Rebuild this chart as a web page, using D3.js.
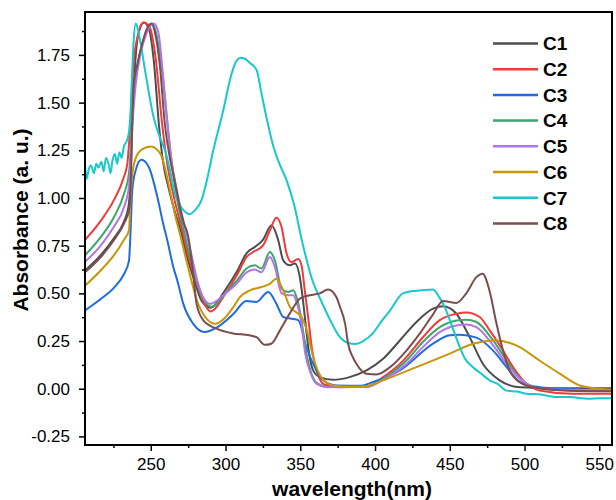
<!DOCTYPE html>
<html>
<head>
<meta charset="utf-8">
<script src="https://cdn.jsdelivr.net/npm/d3@7"></script>
<style>
  body { margin: 0; background: #fff; }
  svg { font-family: "Liberation Sans", Arial, sans-serif; }
  .axis text { font-size: 17px; fill: #000; }
  .axis path { display: none; }
  .axis line { stroke: #000; stroke-width: 1.5; }
</style>
</head>
<body>
<div id="chart"></div>
<script>
// series names and colours
const names = ['C1', 'C2', 'C3', 'C4', 'C5', 'C6', 'C7', 'C8'];
const colors = ['#4d4d4d', '#ef3b3b', '#1f6be0', '#3aa86b', '#b374e8', '#c8960a', '#17c8cc', '#7a4e4e'];

// [wavelength (nm), absorbance]
const c1 = [[206,0.62],[216.5,0.70],[225.4,0.79],[232,0.875],[235,0.95],[236.5,1.1],[237.5,1.4],[239.5,1.7],[242,1.87],[245.5,1.92],[249,1.88],[252,1.72],[255.5,1.38],[258,1.20],[262,1.05],[266,0.93],[270,0.83],[274,0.70],[279,0.57],[284,0.46],[290,0.425],[300,0.52],[308,0.62],[314,0.71],[319.6,0.743],[325,0.78],[330.8,0.857],[335.2,0.78],[338.6,0.673],[343,0.647],[346.4,0.656],[350,0.57],[352,0.45],[354,0.306],[356,0.18],[358.6,0.096],[363,0.061],[372,0.047],[383,0.061],[394.3,0.096],[405.4,0.157],[416.6,0.253],[427.7,0.35],[438.8,0.42],[445.5,0.432],[454.4,0.393],[463.3,0.27],[472.2,0.13],[483.4,0.044],[496.7,0.008],[520,0.003],[558.5,0.002]];
const c2 = [[206,0.78],[216.5,0.88],[225.4,0.99],[232,1.11],[234.3,1.18],[236,1.35],[238.3,1.69],[241.6,1.86],[245,1.92],[249,1.90],[253,1.75],[257.7,1.38],[261,1.18],[265,1.02],[271,0.83],[275,0.70],[280,0.57],[285,0.46],[290,0.405],[300,0.50],[308,0.60],[314,0.69],[318.5,0.717],[325,0.75],[329.7,0.83],[334,0.897],[337.4,0.85],[340.8,0.71],[344,0.664],[348.6,0.68],[350.8,0.647],[353,0.516],[355.5,0.36],[358,0.20],[360,0.12],[363,0.05],[366,0.022],[376.5,0.008],[395,0.012],[405.4,0.061],[416.6,0.13],[421,0.166],[432,0.27],[443.3,0.36],[454.5,0.393],[461,0.40],[470,0.376],[476.7,0.306],[485.6,0.20],[492.3,0.113],[499,0.044],[510,-0.009],[532,-0.026],[558.5,-0.026]];
const c3 = [[206,0.41],[216.5,0.47],[225.4,0.53],[232,0.60],[235.4,0.67],[236.5,0.83],[237.6,1.04],[239.9,1.145],[243.7,1.20],[248.8,1.16],[254.4,1.005],[258.3,0.865],[261,0.78],[265,0.64],[268,0.56],[271.7,0.446],[278.4,0.34],[286,0.297],[294,0.32],[305,0.39],[314,0.46],[320.7,0.455],[328.5,0.507],[334,0.446],[338.6,0.376],[344,0.367],[348.6,0.36],[354,0.22],[358.6,0.13],[365.3,0.044],[374,0.017],[390,0.015],[398.7,0.035],[416.6,0.096],[438.8,0.236],[450,0.28],[456.7,0.283],[467.8,0.268],[479,0.20],[488,0.113],[497,0.035],[510,0.008],[530,-0.003],[558.5,-0.008]];
const c4 = [[206,0.70],[216.5,0.795],[225.4,0.90],[232,1.02],[235.4,1.13],[236.5,1.25],[238,1.5],[240,1.64],[243,1.77],[247,1.87],[251,1.915],[254,1.85],[257,1.70],[260,1.48],[263,1.25],[267,1.02],[272,0.83],[276,0.70],[280.5,0.57],[285,0.47],[290.6,0.43],[300,0.50],[308,0.57],[314,0.63],[319.6,0.647],[324,0.63],[329.7,0.717],[333,0.673],[337.5,0.525],[342,0.507],[345.3,0.516],[347.5,0.48],[350.8,0.36],[353.8,0.20],[357,0.09],[361,0.03],[368,0.01],[395,0.012],[405,0.05],[421,0.148],[432,0.245],[443.3,0.323],[454.5,0.358],[461,0.362],[467.8,0.35],[479,0.253],[488,0.148],[497,0.052],[510,0.003],[530,-0.008],[558.5,-0.01]];
const c5 = [[206,0.665],[216.5,0.75],[225.4,0.85],[232,0.95],[235.4,1.06],[236.5,1.2],[238,1.42],[240,1.6],[243,1.75],[247,1.86],[252,1.915],[255,1.87],[258,1.66],[261,1.40],[264,1.19],[268,1.02],[273.3,0.83],[277,0.71],[281,0.57],[285,0.48],[289.6,0.445],[300,0.50],[308,0.555],[314,0.61],[319.6,0.625],[324,0.61],[329.7,0.69],[333,0.638],[337.5,0.50],[342,0.49],[345.3,0.49],[347.5,0.454],[350.8,0.34],[353.2,0.19],[357,0.08],[361,0.025],[368,0.008],[395,0.01],[405,0.045],[421,0.13],[432,0.218],[443.3,0.297],[454.5,0.332],[461,0.337],[467.8,0.323],[479,0.227],[488,0.13],[497,0.052],[510,0.0],[530,-0.006],[558.5,-0.008]];
const c6 = [[206,0.54],[216.5,0.62],[225.4,0.70],[232,0.78],[235.4,0.83],[236.5,1.005],[238.8,1.18],[243.3,1.25],[250,1.27],[256.6,1.23],[260,1.14],[263.3,1.02],[266,0.92],[270,0.795],[276.6,0.585],[281,0.46],[287,0.37],[293,0.34],[300,0.375],[305.4,0.43],[309.6,0.48],[316.3,0.516],[324,0.533],[329.6,0.55],[334,0.577],[338.6,0.516],[343,0.43],[347.5,0.40],[350.8,0.376],[354.4,0.306],[358.6,0.166],[364,0.061],[372,0.017],[385,0.01],[395,0.015],[405.4,0.044],[427.7,0.113],[450,0.184],[465.6,0.236],[481,0.253],[494.5,0.227],[510,0.148],[523.5,0.079],[537,0.017],[550,0.0],[558.5,-0.005]];
const c7 = [[206,1.18],[207,1.10],[208.5,1.15],[210,1.17],[212,1.13],[213.5,1.18],[215,1.16],[217,1.19],[218.5,1.14],[220,1.21],[222,1.17],[223,1.13],[224.5,1.20],[226,1.23],[227.5,1.18],[229,1.24],[230.5,1.21],[232,1.27],[234,1.30],[235.5,1.35],[236.5,1.45],[237.5,1.65],[238.5,1.82],[240,1.915],[241.5,1.88],[243,1.82],[247,1.63],[252,1.42],[256,1.32],[259.5,1.25],[263,1.14],[265.5,1.04],[269,0.97],[272,0.935],[276,0.915],[280,0.94],[284,0.99],[287,1.075],[291.8,1.25],[298.5,1.46],[304,1.65],[307.4,1.72],[310.3,1.735],[313,1.73],[316,1.71],[320.8,1.67],[324,1.55],[328,1.40],[332,1.27],[336,1.18],[341,1.09],[346,0.96],[351,0.78],[358,0.57],[364,0.46],[370,0.36],[376.5,0.27],[382,0.24],[387,0.235],[392,0.25],[398.5,0.29],[404,0.35],[410,0.41],[418.6,0.50],[425,0.512],[430,0.515],[438.7,0.52],[443,0.48],[446.5,0.43],[450,0.36],[456.6,0.22],[460,0.16],[465.5,0.113],[470,0.085],[476.7,0.044],[482,0.025],[488,-0.01],[495,-0.015],[501,-0.026],[511,-0.03],[521,-0.044],[530,-0.044],[543,-0.052],[550,-0.05],[558.5,-0.05]];
const c8 = [[206,0.61],[216.5,0.69],[225.4,0.78],[232,0.865],[235.4,0.935],[236.5,1.05],[237.5,1.35],[238.5,1.58],[241,1.70],[244,1.80],[247,1.88],[250.5,1.915],[253,1.86],[256,1.70],[259.5,1.38],[263,1.20],[266,1.09],[270,0.93],[272,0.87],[275,0.80],[278.4,0.60],[280.6,0.446],[285,0.36],[294,0.315],[305,0.29],[316,0.28],[320.7,0.27],[326.3,0.23],[330.6,0.236],[336.4,0.306],[343,0.395],[350,0.474],[356.4,0.49],[363,0.50],[368.6,0.52],[374.2,0.48],[376.5,0.43],[380,0.34],[382,0.236],[385.5,0.16],[387.6,0.13],[394.3,0.079],[401,0.075],[410,0.113],[421,0.20],[430,0.29],[438.8,0.39],[445.5,0.46],[454.5,0.45],[461,0.50],[467.8,0.585],[472,0.603],[476.7,0.51],[481,0.35],[485.6,0.20],[490,0.096],[496.6,0.035],[505.6,0.008],[530,-0.01],[558.5,-0.013]];
const series = [c1, c2, c3, c4, c5, c6, c7, c8];

// tick values
const xTicks = [250, 300, 350, 400, 450, 500, 550];
const xMinor = [225, 275, 325, 375, 425, 475, 525];
const yTicks = [-0.25, 0, 0.25, 0.5, 0.75, 1.0, 1.25, 1.5, 1.75];
const yMinor = [-0.125, 0.125, 0.375, 0.625, 0.875, 1.125, 1.375, 1.625, 1.875];

const width = 616, height = 500;
const box = { left: 85, right: 612, top: 12, bottom: 445 };

const svg = d3.select('#chart').append('svg')
    .attr('width', width)
    .attr('height', height);

const x = d3.scaleLinear().domain([206, 558.5]).range([box.left, box.right]);
const y = d3.scaleLinear().domain([-0.295, 1.975]).range([box.bottom, box.top]);

svg.append('clipPath').attr('id', 'clip')
  .append('rect')
    .attr('x', box.left).attr('y', box.top)
    .attr('width', box.right - box.left).attr('height', box.bottom - box.top);

// plain hyphen for negatives, like the original
const yFormat = d => d3.format('.2f')(d).replace('\u2212', '-');

// axes (ticks outside)
svg.append('g').attr('class', 'axis')
    .attr('transform', `translate(0,${box.bottom})`)
    .call(d3.axisBottom(x).tickValues(xTicks).tickSize(6).tickPadding(7).tickFormat(d3.format('d')));
svg.append('g').attr('class', 'axis')
    .attr('transform', `translate(0,${box.bottom})`)
    .call(d3.axisBottom(x).tickValues(xMinor).tickSize(3).tickFormat(''));
svg.append('g').attr('class', 'axis')
    .attr('transform', `translate(${box.left},0)`)
    .call(d3.axisLeft(y).tickValues(yTicks).tickSize(6).tickPadding(9).tickFormat(yFormat));
svg.append('g').attr('class', 'axis')
    .attr('transform', `translate(${box.left},0)`)
    .call(d3.axisLeft(y).tickValues(yMinor).tickSize(3).tickFormat(''));

// spectra
const line = d3.line()
    .x(d => x(d[0]))
    .y(d => y(d[1]))
    .curve(d3.curveMonotoneX);

svg.append('g').attr('clip-path', 'url(#clip)')
  .selectAll('path')
  .data(series)
  .join('path')
    .attr('d', line)
    .attr('fill', 'none')
    .attr('stroke', (d, i) => colors[i])
    .attr('stroke-width', 2)
    .attr('stroke-linejoin', 'round');

// frame
svg.append('rect')
    .attr('x', box.left).attr('y', box.top)
    .attr('width', box.right - box.left).attr('height', box.bottom - box.top)
    .attr('fill', 'none')
    .attr('stroke', '#000')
    .attr('stroke-width', 2);

// legend
const legend = svg.append('g')
  .selectAll('g')
  .data(names)
  .join('g')
    .attr('transform', (d, i) => `translate(493,${43.5 + i * 25.7})`);
legend.append('line')
    .attr('x1', 0).attr('x2', 45)
    .attr('stroke', (d, i) => colors[i])
    .attr('stroke-width', 2.5);
legend.append('text')
    .attr('x', 50).attr('dy', '0.36em')
    .attr('font-size', 19).attr('font-weight', 'bold')
    .text(d => d);

// axis titles
svg.append('text')
    .attr('x', 352).attr('y', 496)
    .attr('text-anchor', 'middle')
    .attr('font-size', 21).attr('font-weight', 'bold')
    .text('wavelength(nm)');
svg.append('text')
    .attr('transform', 'translate(28,220) rotate(-90)')
    .attr('text-anchor', 'middle')
    .attr('font-size', 21).attr('font-weight', 'bold')
    .text('Absorbance (a. u.)');
</script>
</body>
</html>
